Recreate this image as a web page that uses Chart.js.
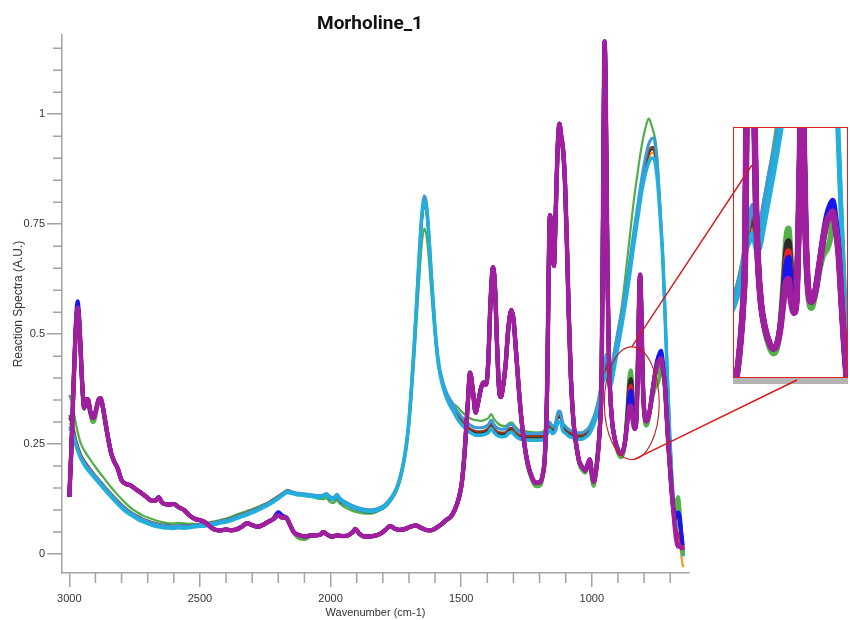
<!DOCTYPE html>
<html>
<head>
<meta charset="utf-8">
<title>Morholine_1</title>
<script src="https://cdn.jsdelivr.net/npm/chart.js@4.4.0/dist/chart.umd.min.js"></script>
<style>
  html, body { margin: 0; padding: 0; background: #fff; }
  #wrap { position: relative; width: 850px; height: 620px; overflow: hidden; }
  #main { position: absolute; left: 0; top: 0; }
  #zoomBox {
    position: absolute; left: 733px; top: 127px; width: 113px; height: 249px;
    border: 1.5px solid #e3211f; background: #fff; box-shadow: 0 6px 0 #b4b4b4;
  }
  #zoom { display: block; }
  #overlay { position: absolute; left: 0; top: 0; pointer-events: none; }
</style>
</head>
<body>
<div id="wrap">
  <canvas id="main" width="850" height="620"></canvas>
  <div id="zoomBox"><canvas id="zoom" width="113" height="249"></canvas></div>
  <canvas id="overlay" width="850" height="620"></canvas>
</div>
<script>
const TITLE = 'Morholine_1';
const X_LABEL = 'Wavenumber (cm-1)';
const Y_LABEL = 'Reaction Spectra (A.U.)';
const X_TICKS = [3000, 2500, 2000, 1500, 1000];
const Y_TICKS = [0, 0.25, 0.5, 0.75, 1];

// wavenumbers of the sharp-band spectra (purple family)
const P_X = [
  3000, 2992, 2984, 2977, 2971, 2968, 2964, 2958, 2950, 2943,
  2936, 2929, 2920, 2910, 2903, 2895, 2887, 2880, 2872, 2862,
  2852, 2840, 2828, 2815, 2800, 2785, 2765, 2745, 2725, 2705,
  2688, 2670, 2658, 2645, 2625, 2600, 2580, 2560, 2540, 2520,
  2500, 2480, 2460, 2440, 2420, 2400, 2380, 2360, 2340, 2320,
  2300, 2280, 2260, 2240, 2220, 2200, 2185, 2170, 2155, 2140,
  2120, 2100, 2080, 2060, 2040, 2028, 2015, 1995, 1975, 1955,
  1935, 1915, 1905, 1890, 1870, 1850, 1830, 1810, 1790, 1772,
  1755, 1735, 1715, 1695, 1672, 1655, 1635, 1615, 1595, 1575,
  1558, 1540, 1525, 1510, 1498, 1487, 1475, 1466, 1455, 1445,
  1435, 1425, 1415, 1405, 1397, 1388, 1378, 1370, 1363, 1355,
  1348, 1340, 1330, 1320, 1308, 1300, 1290, 1280, 1270, 1258,
  1245, 1230, 1215, 1200, 1188, 1180, 1172, 1160, 1152, 1145,
  1138, 1131, 1124, 1117, 1110, 1103, 1096, 1088, 1080, 1070,
  1060, 1048, 1035, 1025, 1015, 1008, 1000, 993, 985, 975,
  968, 963, 959, 955, 951, 947, 943, 939, 935, 930,
  922, 912, 900, 890, 880, 872, 864, 856, 850, 844,
  836, 830, 824, 819, 815, 811, 806, 800, 790, 780,
  770, 760, 750, 742, 735, 728, 720, 713, 706, 700,
  694, 688, 682, 676, 670, 664, 658, 652
];

const P_PURPLE = [
  0.13, 0.24, 0.38, 0.49, 0.55, 0.56, 0.545, 0.48, 0.38, 0.332,
  0.352, 0.352, 0.325, 0.31, 0.315, 0.335, 0.352, 0.354, 0.335, 0.3,
  0.265, 0.23, 0.21, 0.195, 0.168, 0.16, 0.156, 0.147, 0.139, 0.13,
  0.122, 0.121, 0.129, 0.117, 0.113, 0.114, 0.106, 0.1, 0.088, 0.08,
  0.077, 0.072, 0.062, 0.055, 0.054, 0.056, 0.054, 0.056, 0.062, 0.07,
  0.066, 0.062, 0.066, 0.073, 0.079, 0.088, 0.083, 0.083, 0.066, 0.049,
  0.043, 0.04, 0.042, 0.043, 0.044, 0.05, 0.045, 0.04, 0.042, 0.041,
  0.042, 0.05, 0.057, 0.046, 0.04, 0.04, 0.042, 0.046, 0.055, 0.064,
  0.058, 0.055, 0.057, 0.062, 0.065, 0.06, 0.055, 0.054, 0.06, 0.068,
  0.077, 0.085, 0.1, 0.125, 0.16, 0.23, 0.34, 0.412, 0.37, 0.322,
  0.345, 0.375, 0.39, 0.385, 0.43, 0.57, 0.652, 0.6, 0.48, 0.375,
  0.357, 0.38, 0.43, 0.51, 0.555, 0.535, 0.46, 0.38, 0.31, 0.25,
  0.205, 0.176, 0.162, 0.163, 0.18, 0.22, 0.35, 0.77, 0.7, 0.655,
  0.78, 0.92, 0.978, 0.95, 0.92, 0.85, 0.72, 0.54, 0.4, 0.3,
  0.25, 0.21, 0.197, 0.19, 0.205, 0.215, 0.185, 0.165, 0.185, 0.24,
  0.3, 0.38, 0.62, 0.95, 1.165, 1.06, 0.82, 0.6, 0.46, 0.37,
  0.3, 0.262, 0.237, 0.228, 0.235, 0.258, 0.3, 0.335, 0.338, 0.305,
  0.285, 0.3, 0.42, 0.58, 0.635, 0.57, 0.42, 0.33, 0.302, 0.32,
  0.36, 0.4, 0.43, 0.44, 0.445, 0.42, 0.38, 0.31, 0.24, 0.19,
  0.14, 0.1, 0.06, 0.03, 0.017, 0.02, 0.015, 0.01
];

const P_BLUE = [
  0.13, 0.24, 0.38, 0.495, 0.565, 0.575, 0.555, 0.485, 0.38, 0.332,
  0.352, 0.352, 0.325, 0.31, 0.315, 0.335, 0.352, 0.354, 0.335, 0.3,
  0.265, 0.23, 0.21, 0.195, 0.168, 0.16, 0.156, 0.147, 0.139, 0.13,
  0.122, 0.121, 0.129, 0.117, 0.113, 0.114, 0.106, 0.1, 0.088, 0.08,
  0.077, 0.072, 0.062, 0.055, 0.054, 0.056, 0.054, 0.056, 0.062, 0.07,
  0.066, 0.062, 0.066, 0.073, 0.08, 0.095, 0.088, 0.083, 0.066, 0.049,
  0.043, 0.04, 0.042, 0.043, 0.044, 0.05, 0.045, 0.04, 0.042, 0.041,
  0.042, 0.05, 0.057, 0.046, 0.04, 0.04, 0.042, 0.046, 0.055, 0.064,
  0.058, 0.055, 0.057, 0.062, 0.065, 0.06, 0.055, 0.054, 0.06, 0.068,
  0.077, 0.085, 0.1, 0.125, 0.16, 0.23, 0.34, 0.412, 0.37, 0.322,
  0.345, 0.375, 0.39, 0.385, 0.43, 0.57, 0.652, 0.6, 0.48, 0.375,
  0.357, 0.38, 0.43, 0.51, 0.555, 0.535, 0.46, 0.38, 0.31, 0.25,
  0.205, 0.176, 0.162, 0.163, 0.18, 0.22, 0.35, 0.77, 0.7, 0.655,
  0.78, 0.92, 0.978, 0.95, 0.92, 0.85, 0.72, 0.54, 0.4, 0.3,
  0.25, 0.21, 0.197, 0.19, 0.205, 0.215, 0.185, 0.165, 0.185, 0.24,
  0.3, 0.38, 0.62, 0.95, 1.165, 1.06, 0.82, 0.6, 0.46, 0.37,
  0.3, 0.262, 0.237, 0.228, 0.235, 0.259, 0.303, 0.36, 0.372, 0.33,
  0.285, 0.3, 0.42, 0.58, 0.635, 0.57, 0.42, 0.33, 0.302, 0.32,
  0.36, 0.405, 0.44, 0.455, 0.462, 0.435, 0.385, 0.31, 0.24, 0.19,
  0.14, 0.105, 0.085, 0.09, 0.095, 0.085, 0.05, 0.02
];

const P_RED = [
  0.13, 0.24, 0.38, 0.49, 0.55, 0.56, 0.545, 0.48, 0.38, 0.332,
  0.352, 0.352, 0.325, 0.31, 0.315, 0.335, 0.352, 0.354, 0.335, 0.3,
  0.265, 0.23, 0.21, 0.195, 0.168, 0.16, 0.156, 0.147, 0.139, 0.13,
  0.122, 0.121, 0.129, 0.117, 0.113, 0.114, 0.106, 0.1, 0.088, 0.08,
  0.077, 0.072, 0.062, 0.055, 0.054, 0.056, 0.054, 0.056, 0.062, 0.07,
  0.066, 0.062, 0.066, 0.073, 0.079, 0.088, 0.083, 0.083, 0.066, 0.049,
  0.043, 0.04, 0.042, 0.043, 0.044, 0.05, 0.045, 0.04, 0.042, 0.041,
  0.042, 0.05, 0.057, 0.046, 0.04, 0.04, 0.042, 0.046, 0.055, 0.064,
  0.058, 0.055, 0.057, 0.062, 0.065, 0.06, 0.055, 0.054, 0.06, 0.068,
  0.077, 0.085, 0.1, 0.125, 0.16, 0.23, 0.34, 0.412, 0.37, 0.322,
  0.345, 0.375, 0.39, 0.385, 0.43, 0.57, 0.652, 0.6, 0.48, 0.375,
  0.357, 0.38, 0.43, 0.51, 0.555, 0.535, 0.46, 0.38, 0.31, 0.25,
  0.205, 0.176, 0.162, 0.163, 0.18, 0.22, 0.35, 0.77, 0.7, 0.655,
  0.78, 0.92, 0.978, 0.95, 0.92, 0.85, 0.72, 0.54, 0.4, 0.3,
  0.25, 0.21, 0.197, 0.19, 0.205, 0.215, 0.185, 0.165, 0.185, 0.24,
  0.3, 0.38, 0.62, 0.95, 1.165, 1.06, 0.82, 0.6, 0.46, 0.37,
  0.3, 0.262, 0.237, 0.228, 0.235, 0.26, 0.305, 0.37, 0.382, 0.34,
  0.285, 0.3, 0.42, 0.58, 0.635, 0.57, 0.42, 0.33, 0.302, 0.32,
  0.36, 0.4, 0.435, 0.447, 0.452, 0.43, 0.385, 0.31, 0.24, 0.19,
  0.14, 0.1, 0.065, 0.05, 0.045, 0.04, 0.03, 0.01
];

const P_BLACK = [
  0.13, 0.24, 0.38, 0.49, 0.55, 0.56, 0.545, 0.48, 0.38, 0.332,
  0.352, 0.352, 0.325, 0.31, 0.315, 0.335, 0.352, 0.354, 0.335, 0.3,
  0.265, 0.23, 0.21, 0.195, 0.168, 0.16, 0.156, 0.147, 0.139, 0.13,
  0.122, 0.121, 0.129, 0.117, 0.113, 0.114, 0.106, 0.1, 0.088, 0.08,
  0.077, 0.072, 0.062, 0.055, 0.054, 0.056, 0.054, 0.056, 0.062, 0.07,
  0.066, 0.062, 0.066, 0.073, 0.079, 0.088, 0.083, 0.083, 0.066, 0.049,
  0.043, 0.04, 0.042, 0.043, 0.044, 0.05, 0.045, 0.04, 0.042, 0.041,
  0.042, 0.05, 0.057, 0.046, 0.04, 0.04, 0.042, 0.046, 0.055, 0.064,
  0.058, 0.055, 0.057, 0.062, 0.065, 0.06, 0.055, 0.054, 0.06, 0.068,
  0.077, 0.085, 0.1, 0.125, 0.16, 0.23, 0.34, 0.412, 0.37, 0.322,
  0.345, 0.375, 0.39, 0.385, 0.43, 0.57, 0.652, 0.6, 0.48, 0.375,
  0.357, 0.38, 0.43, 0.51, 0.555, 0.535, 0.46, 0.38, 0.31, 0.25,
  0.205, 0.176, 0.162, 0.163, 0.18, 0.22, 0.35, 0.77, 0.7, 0.655,
  0.78, 0.92, 0.97, 0.945, 0.915, 0.85, 0.72, 0.54, 0.4, 0.3,
  0.25, 0.21, 0.197, 0.19, 0.205, 0.213, 0.183, 0.165, 0.185, 0.24,
  0.3, 0.38, 0.62, 0.95, 1.165, 1.06, 0.82, 0.6, 0.46, 0.37,
  0.3, 0.262, 0.237, 0.228, 0.235, 0.26, 0.315, 0.385, 0.398, 0.355,
  0.285, 0.3, 0.42, 0.58, 0.635, 0.57, 0.42, 0.33, 0.302, 0.32,
  0.36, 0.4, 0.43, 0.44, 0.445, 0.42, 0.38, 0.31, 0.24, 0.19,
  0.14, 0.1, 0.08, 0.085, 0.09, 0.08, 0.04, 0.01
];

const P_GREEN = [
  0.13, 0.24, 0.38, 0.49, 0.55, 0.56, 0.545, 0.48, 0.38, 0.33,
  0.35, 0.35, 0.32, 0.3, 0.305, 0.33, 0.35, 0.352, 0.335, 0.3,
  0.265, 0.23, 0.21, 0.195, 0.168, 0.16, 0.156, 0.147, 0.139, 0.13,
  0.122, 0.121, 0.129, 0.117, 0.113, 0.114, 0.106, 0.1, 0.088, 0.08,
  0.077, 0.072, 0.062, 0.055, 0.054, 0.056, 0.054, 0.056, 0.062, 0.07,
  0.066, 0.062, 0.066, 0.073, 0.079, 0.088, 0.083, 0.083, 0.066, 0.049,
  0.036, 0.034, 0.04, 0.042, 0.044, 0.05, 0.045, 0.04, 0.042, 0.041,
  0.042, 0.05, 0.057, 0.046, 0.04, 0.04, 0.042, 0.046, 0.055, 0.064,
  0.058, 0.055, 0.057, 0.062, 0.065, 0.06, 0.055, 0.054, 0.06, 0.068,
  0.077, 0.085, 0.1, 0.125, 0.16, 0.23, 0.34, 0.412, 0.37, 0.322,
  0.345, 0.375, 0.39, 0.385, 0.43, 0.57, 0.652, 0.6, 0.48, 0.375,
  0.357, 0.38, 0.43, 0.51, 0.555, 0.535, 0.46, 0.38, 0.31, 0.25,
  0.2, 0.17, 0.154, 0.155, 0.175, 0.22, 0.35, 0.77, 0.7, 0.655,
  0.78, 0.92, 0.97, 0.945, 0.92, 0.85, 0.72, 0.54, 0.4, 0.3,
  0.25, 0.205, 0.19, 0.185, 0.2, 0.207, 0.172, 0.155, 0.18, 0.24,
  0.3, 0.38, 0.62, 0.95, 1.165, 1.06, 0.82, 0.6, 0.46, 0.37,
  0.3, 0.258, 0.23, 0.22, 0.228, 0.262, 0.33, 0.405, 0.418, 0.37,
  0.29, 0.305, 0.42, 0.58, 0.635, 0.57, 0.41, 0.32, 0.292, 0.315,
  0.35, 0.375, 0.385, 0.4, 0.43, 0.42, 0.38, 0.31, 0.24, 0.19,
  0.14, 0.11, 0.1, 0.11, 0.13, 0.1, 0.05, 0.0
];

// wavenumbers of the broad-band spectra (cyan family)
const C_X = [
  3000, 2993, 2985, 2975, 2965, 2955, 2940, 2920, 2900, 2880,
  2860, 2840, 2820, 2800, 2780, 2760, 2740, 2720, 2700, 2680,
  2660, 2640, 2620, 2600, 2580, 2560, 2540, 2520, 2500, 2480,
  2460, 2440, 2420, 2400, 2380, 2360, 2340, 2320, 2300, 2280,
  2260, 2240, 2220, 2200, 2180, 2165, 2150, 2130, 2110, 2090,
  2070, 2050, 2030, 2015, 2005, 1990, 1975, 1965, 1950, 1930,
  1910, 1890, 1870, 1850, 1830, 1810, 1795, 1780, 1765, 1750,
  1735, 1720, 1710, 1700, 1690, 1680, 1670, 1660, 1650, 1641,
  1633, 1625, 1615, 1605, 1595, 1585, 1575, 1560, 1545, 1530,
  1515, 1500, 1485, 1470, 1455, 1440, 1425, 1410, 1395, 1385,
  1375, 1360, 1345, 1330, 1318, 1305, 1295, 1280, 1260, 1240,
  1220, 1200, 1185, 1172, 1162, 1150, 1140, 1128, 1120, 1112,
  1100, 1085, 1070, 1055, 1040, 1025, 1010, 1000, 990, 980,
  970, 960, 950, 944, 938, 931, 924, 915, 900, 885,
  870, 855, 840, 825, 810, 795, 782, 770, 763, 755,
  748, 741, 734, 728, 722, 715, 707, 700, 694, 688,
  682, 676, 670, 665, 660, 655, 650
];

const C_SKY = [
  0.29, 0.285, 0.273, 0.252, 0.234, 0.22, 0.205, 0.19, 0.176, 0.162,
  0.148, 0.135, 0.122, 0.11, 0.1, 0.092, 0.085, 0.079, 0.074, 0.07,
  0.067, 0.065, 0.064, 0.063, 0.065, 0.064, 0.064, 0.066, 0.067, 0.068,
  0.07, 0.072, 0.075, 0.077, 0.08, 0.085, 0.089, 0.093, 0.098, 0.103,
  0.109, 0.115, 0.122, 0.13, 0.139, 0.144, 0.142, 0.139, 0.138, 0.136,
  0.135, 0.133, 0.134, 0.138, 0.132, 0.128, 0.136, 0.128, 0.121, 0.114,
  0.109, 0.105, 0.102, 0.101, 0.102, 0.106, 0.111, 0.12, 0.132, 0.148,
  0.174, 0.214, 0.252, 0.307, 0.387, 0.478, 0.583, 0.693, 0.78, 0.814,
  0.798, 0.743, 0.648, 0.558, 0.483, 0.433, 0.403, 0.373, 0.353, 0.338,
  0.325, 0.313, 0.303, 0.295, 0.29, 0.287, 0.287, 0.289, 0.295, 0.305,
  0.295, 0.286, 0.284, 0.285, 0.293, 0.295, 0.287, 0.279, 0.276, 0.274,
  0.274, 0.274, 0.276, 0.288, 0.3, 0.29, 0.296, 0.325, 0.323, 0.3,
  0.29, 0.282, 0.279, 0.276, 0.276, 0.28, 0.288, 0.3, 0.314, 0.334,
  0.362, 0.4, 0.44, 0.455, 0.435, 0.415, 0.425, 0.455, 0.505, 0.55,
  0.605, 0.665, 0.73, 0.79, 0.85, 0.9, 0.932, 0.945, 0.946, 0.92,
  0.876, 0.812, 0.742, 0.676, 0.586, 0.472, 0.352, 0.252, 0.182, 0.125,
  0.092, 0.075, 0.066, 0.078, 0.068, 0.04, 0.005
];

const C_CYAN = [
  0.285, 0.282, 0.27, 0.248, 0.23, 0.216, 0.2, 0.185, 0.171, 0.157,
  0.143, 0.13, 0.117, 0.105, 0.095, 0.087, 0.08, 0.074, 0.069, 0.065,
  0.062, 0.06, 0.059, 0.058, 0.06, 0.059, 0.06, 0.062, 0.063, 0.064,
  0.066, 0.068, 0.071, 0.073, 0.076, 0.081, 0.085, 0.089, 0.094, 0.099,
  0.105, 0.111, 0.118, 0.126, 0.135, 0.14, 0.138, 0.135, 0.134, 0.132,
  0.131, 0.129, 0.13, 0.134, 0.128, 0.124, 0.132, 0.124, 0.117, 0.11,
  0.105, 0.101, 0.098, 0.097, 0.098, 0.102, 0.107, 0.116, 0.128, 0.144,
  0.17, 0.21, 0.248, 0.302, 0.382, 0.472, 0.575, 0.683, 0.77, 0.802,
  0.788, 0.733, 0.638, 0.548, 0.473, 0.423, 0.392, 0.361, 0.34, 0.325,
  0.308, 0.296, 0.286, 0.278, 0.273, 0.27, 0.27, 0.272, 0.277, 0.286,
  0.277, 0.269, 0.267, 0.268, 0.275, 0.277, 0.27, 0.263, 0.26, 0.259,
  0.259, 0.259, 0.261, 0.272, 0.283, 0.274, 0.28, 0.3, 0.3, 0.282,
  0.274, 0.267, 0.264, 0.261, 0.261, 0.265, 0.273, 0.284, 0.298, 0.318,
  0.35, 0.385, 0.4, 0.41, 0.395, 0.38, 0.39, 0.42, 0.47, 0.52,
  0.575, 0.635, 0.7, 0.76, 0.82, 0.865, 0.89, 0.9, 0.9, 0.88,
  0.845, 0.79, 0.728, 0.665, 0.58, 0.468, 0.348, 0.248, 0.178, 0.122,
  0.09, 0.073, 0.065, 0.07, 0.06, 0.03, -0.005
];

const C_GREEN = [
  0.362, 0.35, 0.33, 0.297, 0.27, 0.25, 0.233, 0.215, 0.198, 0.182,
  0.167, 0.152, 0.138, 0.125, 0.113, 0.103, 0.095, 0.088, 0.083, 0.079,
  0.075, 0.072, 0.07, 0.07, 0.071, 0.07, 0.069, 0.069, 0.069, 0.071,
  0.073, 0.075, 0.078, 0.081, 0.085, 0.09, 0.094, 0.098, 0.102, 0.107,
  0.112, 0.117, 0.124, 0.132, 0.14, 0.146, 0.143, 0.138, 0.135, 0.132,
  0.13, 0.126, 0.125, 0.127, 0.12, 0.116, 0.122, 0.115, 0.108, 0.102,
  0.097, 0.094, 0.092, 0.092, 0.094, 0.1, 0.105, 0.113, 0.125, 0.14,
  0.163, 0.2, 0.235, 0.285, 0.355, 0.44, 0.535, 0.63, 0.71, 0.74,
  0.725, 0.68, 0.6, 0.525, 0.46, 0.42, 0.395, 0.37, 0.355, 0.342,
  0.335, 0.325, 0.317, 0.31, 0.306, 0.304, 0.303, 0.305, 0.31, 0.318,
  0.308, 0.297, 0.292, 0.291, 0.297, 0.299, 0.291, 0.283, 0.28, 0.278,
  0.277, 0.277, 0.279, 0.29, 0.3, 0.29, 0.296, 0.318, 0.318, 0.3,
  0.285, 0.279, 0.276, 0.274, 0.275, 0.28, 0.29, 0.302, 0.318, 0.34,
  0.37, 0.41, 0.43, 0.44, 0.425, 0.41, 0.425, 0.46, 0.51, 0.565,
  0.64, 0.72, 0.8, 0.865, 0.925, 0.968, 0.99, 0.972, 0.958, 0.935,
  0.89, 0.82, 0.745, 0.676, 0.586, 0.472, 0.355, 0.26, 0.19, 0.14,
  0.12, 0.125, 0.13, 0.1, 0.08, 0.05, 0.01
];

const C_BROWN = [
  0.316, 0.305, 0.29, 0.262, 0.242, 0.226, 0.21, 0.194, 0.179, 0.165,
  0.151, 0.138, 0.125, 0.113, 0.103, 0.094, 0.087, 0.081, 0.076, 0.072,
  0.069, 0.067, 0.066, 0.065, 0.066, 0.066, 0.066, 0.067, 0.068, 0.07,
  0.071, 0.073, 0.076, 0.079, 0.082, 0.087, 0.091, 0.095, 0.1, 0.105,
  0.111, 0.117, 0.124, 0.132, 0.14, 0.145, 0.142, 0.138, 0.137, 0.135,
  0.134, 0.132, 0.132, 0.135, 0.128, 0.124, 0.13, 0.123, 0.116, 0.11,
  0.105, 0.101, 0.098, 0.097, 0.098, 0.102, 0.107, 0.116, 0.128, 0.144,
  0.17, 0.21, 0.248, 0.302, 0.38, 0.47, 0.572, 0.68, 0.765, 0.795,
  0.782, 0.728, 0.635, 0.547, 0.473, 0.425, 0.396, 0.366, 0.345, 0.33,
  0.317, 0.305, 0.295, 0.287, 0.282, 0.279, 0.279, 0.281, 0.287, 0.297,
  0.287, 0.278, 0.276, 0.277, 0.285, 0.287, 0.279, 0.272, 0.269, 0.268,
  0.268, 0.268, 0.27, 0.282, 0.293, 0.284, 0.29, 0.315, 0.314, 0.294,
  0.284, 0.276, 0.273, 0.27, 0.27, 0.274, 0.282, 0.293, 0.307, 0.327,
  0.355, 0.39, 0.425, 0.44, 0.42, 0.4, 0.41, 0.44, 0.49, 0.538,
  0.592, 0.652, 0.715, 0.775, 0.835, 0.885, 0.915, 0.925, 0.925, 0.9,
  0.86, 0.8, 0.735, 0.67, 0.583, 0.47, 0.35, 0.25, 0.18, 0.124,
  0.09, 0.075, 0.07, 0.088, 0.075, 0.04, 0.0
];

const C_BLACK = [
  0.31, 0.3, 0.286, 0.258, 0.238, 0.222, 0.207, 0.191, 0.176, 0.162,
  0.148, 0.135, 0.122, 0.11, 0.1, 0.092, 0.085, 0.079, 0.074, 0.07,
  0.067, 0.065, 0.064, 0.063, 0.064, 0.064, 0.064, 0.065, 0.066, 0.068,
  0.069, 0.071, 0.074, 0.077, 0.08, 0.085, 0.089, 0.093, 0.098, 0.103,
  0.109, 0.115, 0.122, 0.13, 0.138, 0.143, 0.14, 0.136, 0.135, 0.133,
  0.132, 0.13, 0.13, 0.133, 0.126, 0.122, 0.128, 0.121, 0.114, 0.108,
  0.103, 0.099, 0.096, 0.095, 0.096, 0.1, 0.105, 0.114, 0.126, 0.142,
  0.168, 0.208, 0.246, 0.3, 0.378, 0.468, 0.57, 0.676, 0.76, 0.79,
  0.777, 0.724, 0.632, 0.545, 0.471, 0.422, 0.393, 0.363, 0.342, 0.327,
  0.314, 0.302, 0.292, 0.284, 0.279, 0.276, 0.276, 0.278, 0.284, 0.294,
  0.284, 0.275, 0.273, 0.274, 0.282, 0.284, 0.276, 0.269, 0.266, 0.265,
  0.265, 0.265, 0.267, 0.279, 0.29, 0.281, 0.287, 0.312, 0.311, 0.291,
  0.281, 0.273, 0.27, 0.267, 0.267, 0.271, 0.279, 0.29, 0.304, 0.324,
  0.352, 0.387, 0.42, 0.432, 0.412, 0.394, 0.404, 0.435, 0.485, 0.533,
  0.588, 0.648, 0.71, 0.77, 0.83, 0.88, 0.91, 0.92, 0.92, 0.895,
  0.856, 0.797, 0.732, 0.668, 0.582, 0.47, 0.35, 0.25, 0.18, 0.124,
  0.095, 0.085, 0.08, 0.09, 0.07, 0.035, 0.0
];

const C_ORANGE = [
  0.298, 0.292, 0.278, 0.254, 0.235, 0.219, 0.203, 0.188, 0.173, 0.159,
  0.145, 0.132, 0.119, 0.107, 0.097, 0.089, 0.082, 0.076, 0.071, 0.067,
  0.064, 0.062, 0.061, 0.06, 0.062, 0.061, 0.062, 0.063, 0.064, 0.066,
  0.067, 0.069, 0.072, 0.075, 0.078, 0.083, 0.087, 0.091, 0.096, 0.101,
  0.107, 0.113, 0.12, 0.128, 0.137, 0.142, 0.14, 0.137, 0.136, 0.134,
  0.133, 0.131, 0.132, 0.136, 0.13, 0.126, 0.133, 0.125, 0.118, 0.112,
  0.107, 0.103, 0.1, 0.099, 0.1, 0.104, 0.109, 0.118, 0.13, 0.146,
  0.172, 0.212, 0.25, 0.304, 0.382, 0.472, 0.573, 0.678, 0.762, 0.792,
  0.779, 0.726, 0.633, 0.546, 0.472, 0.423, 0.393, 0.362, 0.341, 0.326,
  0.313, 0.301, 0.291, 0.283, 0.278, 0.275, 0.275, 0.277, 0.283, 0.293,
  0.283, 0.274, 0.272, 0.273, 0.281, 0.283, 0.275, 0.268, 0.265, 0.264,
  0.264, 0.264, 0.266, 0.278, 0.289, 0.28, 0.286, 0.31, 0.309, 0.289,
  0.28, 0.272, 0.269, 0.266, 0.266, 0.27, 0.278, 0.289, 0.303, 0.323,
  0.35, 0.384, 0.412, 0.42, 0.4, 0.385, 0.395, 0.428, 0.478, 0.528,
  0.582, 0.642, 0.705, 0.765, 0.825, 0.872, 0.9, 0.912, 0.912, 0.888,
  0.85, 0.793, 0.73, 0.666, 0.58, 0.468, 0.348, 0.248, 0.178, 0.122,
  0.085, 0.06, 0.04, 0.03, 0.01, -0.015, -0.03
];

// Chart.js paints the first dataset on top, so the list runs top to bottom:
// purple family above the broad cyan family
const LAYERS = [
  { xs: P_X, ys: P_PURPLE, color: '#9f1f9f', width: 4.5 },
  { xs: P_X, ys: P_BLUE,   color: '#1515f0', width: 4 },
  { xs: P_X, ys: P_RED,    color: '#e5202a', width: 4 },
  { xs: P_X, ys: P_BLACK,  color: '#2a2a2a', width: 4 },
  { xs: P_X, ys: P_GREEN,  color: '#55b04a', width: 4 },
  { xs: C_X, ys: C_CYAN,   color: '#22afdc', width: 3.5 },
  { xs: C_X, ys: C_SKY,    color: '#3b9bd6', width: 3 },
  { xs: C_X, ys: C_BROWN,  color: '#8b3b1e', width: 2.2 },
  { xs: C_X, ys: C_BLACK,  color: '#2e2e2e', width: 2.2 },
  { xs: C_X, ys: C_ORANGE, color: '#f29b21', width: 2.2 },
  { xs: C_X, ys: C_GREEN,  color: '#4fae47', width: 2.2 }
];

const AXIS_COLOR = '#a3a3a3';
const TEXT_COLOR = '#333333';

function buildDatasets(scale) {
  return LAYERS.map(l => ({
    data: l.xs.map((x, i) => ({ x: x, y: l.ys[i] })),
    borderColor: l.color,
    borderWidth: l.width * scale,
    pointRadius: 0,
    fill: false,
    cubicInterpolationMode: 'monotone'
  }));
}

// short unlabelled ticks between the labelled ones
const minorTicks = {
  id: 'minorTicks',
  afterDraw(chart) {
    const { ctx, scales: { x, y } } = chart;
    ctx.save();
    ctx.strokeStyle = AXIS_COLOR;
    ctx.lineWidth = 1.5;
    ctx.beginPath();
    for (let v = 700; v <= 2900; v += 100) {
      if (v % 500 === 0) continue;
      const px = x.getPixelForValue(v);
      ctx.moveTo(px, y.bottom);
      ctx.lineTo(px, y.bottom + 10);
    }
    for (let i = 1; i <= 23; i++) {
      if (i % 5 === 0) continue;
      const py = y.getPixelForValue(i * 0.05);
      ctx.moveTo(x.left - 9, py);
      ctx.lineTo(x.left, py);
    }
    ctx.stroke();
    ctx.restore();
  }
};

const heading = {
  id: 'heading',
  afterDraw(chart) {
    const ctx = chart.ctx;
    ctx.save();
    ctx.font = 'bold 19px Roboto';
    ctx.fillStyle = '#111';
    ctx.textAlign = 'center';
    ctx.textBaseline = 'middle';
    ctx.fillText(TITLE, 370, 24);
    ctx.restore();
  }
};

Chart.defaults.font.family = "'Liberation Sans', Arial, sans-serif";

const mainChart = new Chart(document.getElementById('main'), {
  type: 'line',
  data: { datasets: buildDatasets(1) },
  options: {
    responsive: false,
    animation: false,
    layout: { padding: { top: 35, right: 161, bottom: 0, left: 0 } },
    plugins: { legend: { display: false }, tooltip: { enabled: false } },
    scales: {
      x: {
        type: 'linear',
        reverse: true,
        min: 628,
        max: 3028,
        afterFit: s => { s.height = 47; },
        afterBuildTicks: s => { s.ticks = X_TICKS.map(v => ({ value: v })); },
        border: { display: true, color: AXIS_COLOR, width: 1.5 },
        grid: { drawOnChartArea: false, color: AXIS_COLOR, tickColor: AXIS_COLOR, tickLength: 14, lineWidth: 1.5 },
        ticks: {
          padding: 5, maxRotation: 0, autoSkip: false,
          color: TEXT_COLOR, font: { size: 11 },
          callback: v => String(v)
        },
        title: { display: true, text: X_LABEL, color: TEXT_COLOR, font: { size: 11 }, padding: { top: 0, bottom: 0.5 } }
      },
      y: {
        min: -0.043,
        max: 1.18,
        afterFit: s => { s.width = 62; },
        afterBuildTicks: s => { s.ticks = Y_TICKS.map(v => ({ value: v })); },
        border: { display: true, color: AXIS_COLOR, width: 1.5 },
        grid: { drawOnChartArea: false, color: AXIS_COLOR, tickColor: AXIS_COLOR, tickLength: 15, lineWidth: 1.5 },
        ticks: {
          padding: 2, autoSkip: false,
          color: TEXT_COLOR, font: { size: 11 },
          callback: v => String(v)
        },
        title: { display: true, text: Y_LABEL, color: TEXT_COLOR, font: { size: 12 }, padding: { top: 11, bottom: 0 } }
      }
    }
  },
  plugins: [minorTicks, heading]
});

// magnified view of the 1000-700 cm-1 window
new Chart(document.getElementById('zoom'), {
  type: 'line',
  data: { datasets: buildDatasets(1.45) },
  options: {
    responsive: false,
    animation: false,
    layout: { padding: 0 },
    plugins: { legend: { display: false }, tooltip: { enabled: false } },
    scales: {
      x: { type: 'linear', reverse: true, min: 698, max: 992, display: false },
      y: { min: 0.183, max: 0.577, display: false }
    }
  }
});

// ring around the magnified window and the two leader lines
const RING = { x: 847, y: 0.343, rx: 105, ry: 0.128 };
const LINK_TOP = { x: 752, y: 165 };
const LINK_BOTTOM = { x: 797, y: 380 };

(function drawOverlay() {
  const ctx = document.getElementById('overlay').getContext('2d');
  const xs = mainChart.scales.x, ys = mainChart.scales.y;
  const cx = xs.getPixelForValue(RING.x);
  const cy = ys.getPixelForValue(RING.y);
  const rx = Math.abs(xs.getPixelForValue(RING.x - RING.rx) - cx);
  const ry = Math.abs(ys.getPixelForValue(RING.y + RING.ry) - cy);
  ctx.strokeStyle = '#c41a1a';
  ctx.lineWidth = 1.1;
  ctx.beginPath();
  ctx.ellipse(cx, cy, rx, ry, 0, 0, Math.PI * 2);
  ctx.stroke();
  ctx.strokeStyle = '#d81a1a';
  ctx.lineWidth = 1.4;
  ctx.beginPath();
  ctx.moveTo(cx, cy - ry);
  ctx.lineTo(LINK_TOP.x, LINK_TOP.y);
  ctx.moveTo(cx + 2, cy + ry);
  ctx.lineTo(LINK_BOTTOM.x, LINK_BOTTOM.y);
  ctx.stroke();
})();
</script>
</body>
</html>
